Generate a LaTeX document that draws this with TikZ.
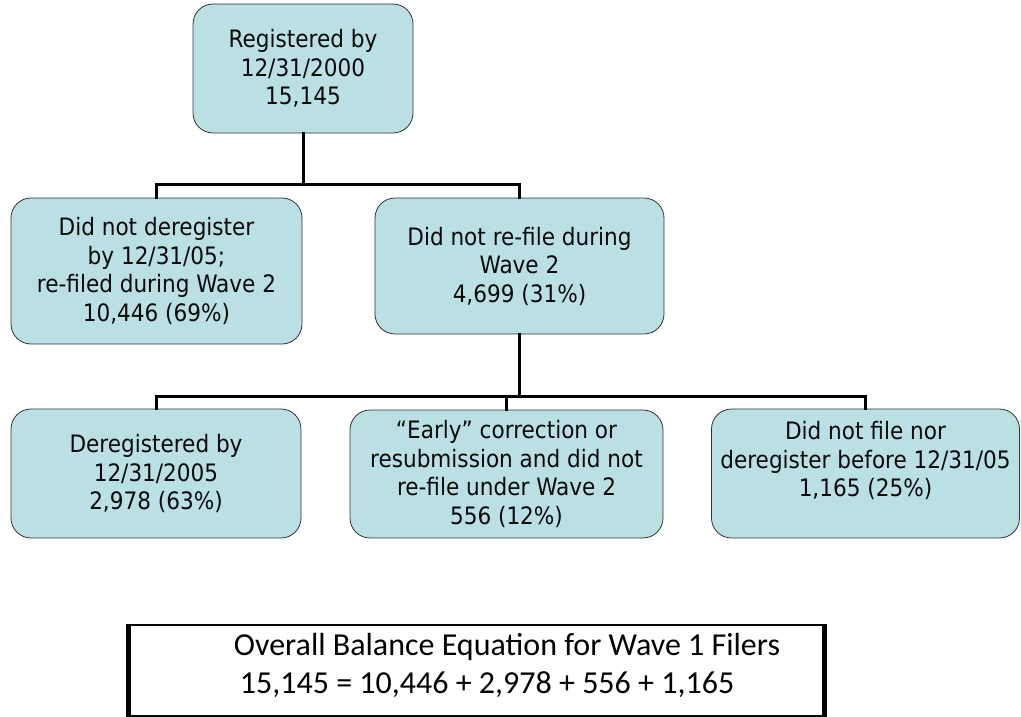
\documentclass[tikz,border=0pt]{standalone}
\usepackage{fontspec}
\setmainfont{DejaVu Sans Condensed}
\newfontfamily\eqfont{Carlito}
\definecolor{boxfill}{RGB}{187,224,227}
\definecolor{boxline}{RGB}{50,50,50}
\definecolor{txt}{RGB}{10,10,10}
\begin{document}
\begin{tikzpicture}[x=1pt,y=-1pt,
  flowbox/.style={draw=boxline, line width=0.8pt, fill=boxfill, rounded corners=20pt,
    align=center, inner sep=0pt, text=txt,
    font=\fontsize{24}{28.5}\selectfont},
  conn/.style={line width=3pt, line cap=rect},
  eqtext/.style={anchor=base, inner sep=0pt, font=\eqfont\fontsize{32}{38}\selectfont}
]
\useasboundingbox (0,0) rectangle (1021,717);

\node[flowbox, minimum width=220pt, minimum height=129pt] (top) at (303,68.5)
  {Registered by\\ 12/31/2000\\ 15,145};
\node[flowbox, minimum width=291pt, minimum height=146pt] (L1) at (156.5,271)
  {Did not deregister\\ by 12/31/05;\\ re-filed during Wave 2\\ 10,446 (69\%)};
\node[flowbox, minimum width=289pt, minimum height=136pt] (R1) at (519.5,266)
  {Did not re-file during\\ Wave 2\\ 4,699 (31\%)};
\node[flowbox, minimum width=290pt, minimum height=129pt] (B1) at (156,473.5)
  {Deregistered by\\ 12/31/2005\\ 2,978 (63\%)};
\node[flowbox, minimum width=313pt, minimum height=128pt] (B2) at (506.5,474)
  {“Early” correction or\\ resubmission and did not\\ re-file under Wave 2\\ 556 (12\%)};
\node[flowbox, minimum width=308pt, minimum height=129pt] (B3) at (865.5,473.5)
  {Did not file nor\\ deregister before 12/31/05\\ 1,165 (25\%)\\ ~};

% connectors level 1
\coordinate (j1) at ([yshift=-51pt]top.south);
\draw[conn] (top.south) -- (j1);
\draw[conn] (L1.north) |- (j1) -| (R1.north);
% connectors level 2
\coordinate (j2) at ([yshift=-62pt]R1.south);
\draw[conn] (R1.south) -- (j2);
\draw[conn] (B1.north) |- (j2) -| (B3.north);
\draw[conn] (B2.north) -- (B2.north |- j2);

% balance equation box
\node[draw=black, line width=1.2pt, minimum width=699pt, minimum height=91pt, inner sep=0pt] (eq) at (476.5,670.5) {};
\draw[line width=5pt] ([xshift=2.5pt]eq.north west) -- ([xshift=2.5pt]eq.south west);
\draw[line width=5pt] ([xshift=-2.5pt]eq.north east) -- ([xshift=-2.5pt]eq.south east);
\node[eqtext] (eq1) at (507,655) {Overall Balance Equation for Wave 1 Filers};
\node[eqtext] (eq2) at (487,693) {15,145 = 10,446 + 2,978 + 556 + 1,165};
\end{tikzpicture}
\end{document}
